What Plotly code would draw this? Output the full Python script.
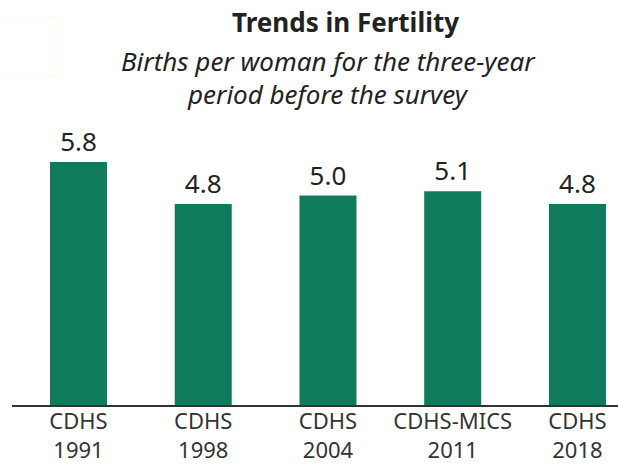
import plotly.graph_objects as go

# Total fertility rate by survey
surveys = ["CDHS<br>1991", "CDHS<br>1998", "CDHS<br>2004", "CDHS-MICS<br>2011", "CDHS<br>2018"]
tfr = [5.8, 4.8, 5.0, 5.1, 4.8]
tfr_labels = ["5.8", "4.8", "5.0", "5.1", "4.8"]

GREEN = "#0f7a5c"
FONT = "Noto Sans"

W, H = 618, 465
L, R, T, B = 12, 0, 100, 60
PW, PH = W - L - R, H - T - B


def px(x):
    return (x - L) / PW


def py(y):
    return (H - B - y) / PH


fig = go.Figure(
    go.Bar(
        x=surveys,
        y=tfr,
        text=tfr_labels,
        textposition="outside",
        textfont=dict(size=26, color="#222222", family=FONT),
        marker=dict(color=GREEN, line_width=0),
        width=0.457,
        cliponaxis=False,
        hoverinfo="skip",
    )
)

fig.update_layout(
    width=W,
    height=H,
    margin=dict(l=L, r=R, t=T, b=B, autoexpand=False),
    paper_bgcolor="white",
    plot_bgcolor="white",
    showlegend=False,
    font=dict(family=FONT, color="#333333"),
    xaxis=dict(
        range=[-0.533, 4.325],
        automargin=False,
        showgrid=False,
        showline=True,
        linecolor="#333333",
        linewidth=2,
        ticks="",
        ticklabelstandoff=-4,
        tickfont=dict(size=22, color="#333333"),
    ),
    yaxis=dict(range=[0, 7.28], visible=False, automargin=False),
    shapes=[
        # faint box in the corner of the original page
        dict(type="rect", xref="paper", yref="paper", x0=px(-2), x1=px(56),
             y0=py(77), y1=py(18),
             line=dict(color="#f9f9e4", width=1), fillcolor="rgba(0,0,0,0)"),
    ],
    annotations=[
        dict(text="<b>Trends in Fertility</b>", xref="paper", yref="paper",
             x=px(345), y=py(22), yanchor="middle", showarrow=False,
             font=dict(size=26, color="#222222", family=FONT)),
        dict(text="<i>Births per woman for the three-year</i>",
             xref="paper", yref="paper", x=px(328), y=py(61), yanchor="middle",
             showarrow=False, font=dict(size=26, color="#222222", family=FONT)),
        dict(text="<i>period before the survey</i>",
             xref="paper", yref="paper", x=px(328), y=py(94), yanchor="middle",
             showarrow=False, font=dict(size=26, color="#222222", family=FONT)),
    ],
)

# drop the browser's default body margin so the 618x465 figure fills the page
fig.write_html(
    "out.html",
    config={"displayModeBar": False},
    post_script="document.body.style.margin = '0';",
)
